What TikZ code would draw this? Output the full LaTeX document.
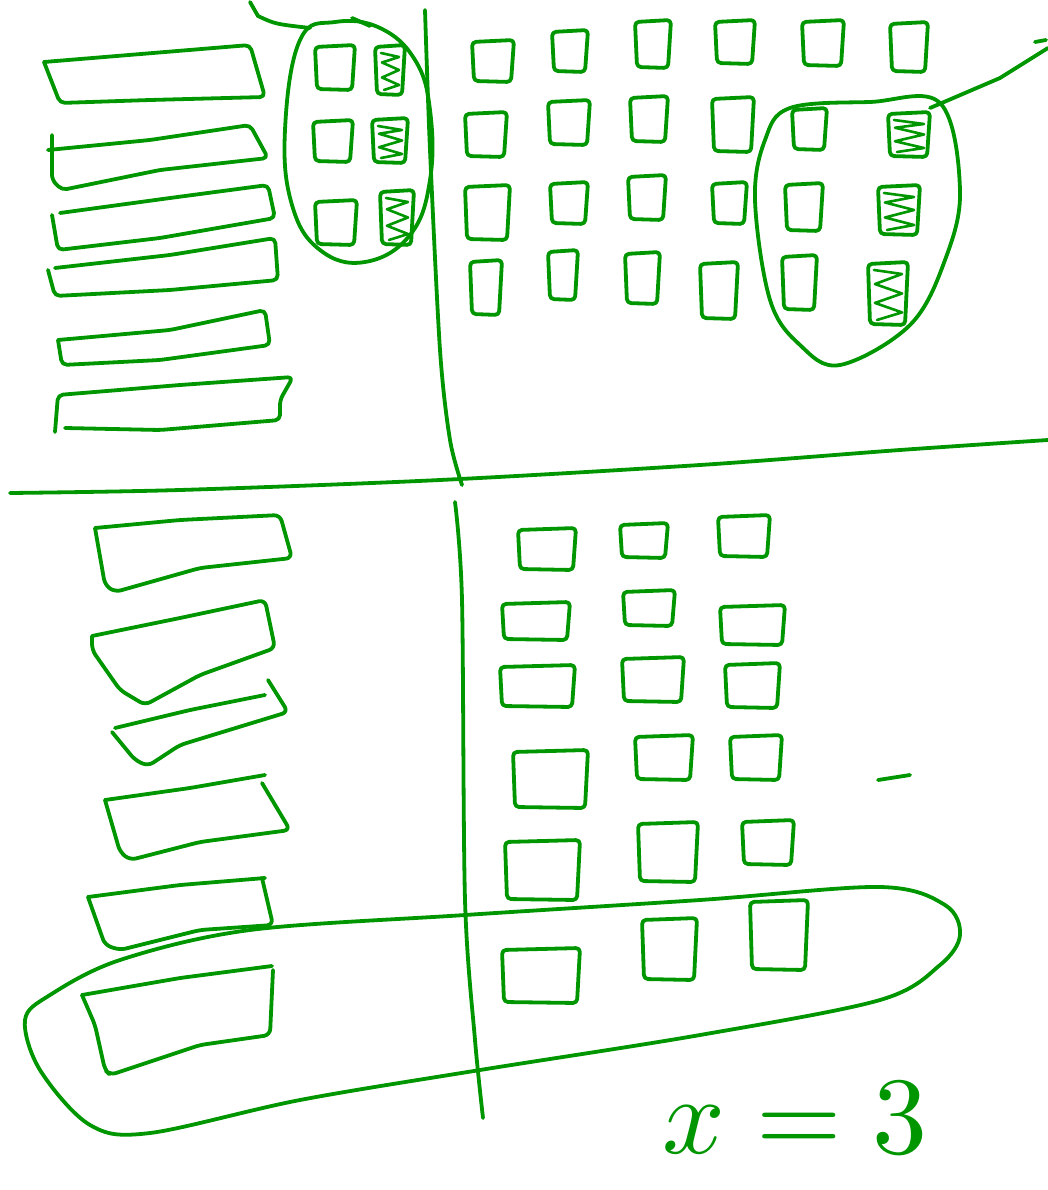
\documentclass[tikz,border=0pt]{standalone}
\definecolor{penc}{RGB}{0,150,0}
\newcommand\mysq[4]{\draw[pen,rounded corners=4pt] ({#1},{#2+2}) -- ({#1+#3},{#2}) -- ({#1+#3-3},{#2+#4}) -- ({#1+2},{#2+#4-1}) -- cycle;}
\newcommand\myhsq[4]{\mysq{#1}{#2}{#3}{#4}\draw[pen,line width=2.6pt] ({#1+6},{#2+8}) -- ({#1+#3-6},{#2+12}) -- ({#1+7},{#2+0.35*#4}) -- ({#1+#3-6},{#2+0.5*#4}) -- ({#1+7},{#2+0.65*#4}) -- ({#1+#3-6},{#2+0.8*#4}) -- ({#1+9},{#2+#4-5});}
\begin{document}
\begin{tikzpicture}[x=1pt,y=-1pt,
  pen/.style={draw=penc, line width=3.8pt, line cap=round, line join=round}]
\useasboundingbox (0,0) rectangle (1048,1190);
\fill[white] (0,0) rectangle (1048,1190);

% ---------- top-left bars ----------
\draw[pen,rounded corners=5pt] (44,62) -- (250,45) -- (265,97) -- (150,100) -- (60,103) -- (44,62);
\draw[pen,rounded corners=5pt] (48,150) -- (150,140) -- (250,125) -- (268,158) -- (160,170) -- (62,190) -- (52,180) -- (52,135);
\draw[pen,rounded corners=5pt] (60,213) -- (170,198) -- (268,185) -- (275,218) -- (160,238) -- (58,250) -- (52,215);
\draw[pen,rounded corners=5pt] (55,268) -- (170,255) -- (275,238) -- (278,280) -- (170,290) -- (55,296) -- (48,270);
\draw[pen,rounded corners=5pt] (58,340) -- (170,330) -- (265,310) -- (270,345) -- (160,360) -- (62,365) -- (58,340);
\draw[pen,rounded corners=5pt] (55,432) -- (58,395) -- (180,385) -- (293,377) -- (280,400) -- (280,420) -- (160,430) -- (65,428);

% ---------- top-left circle ----------
\draw[pen] plot[smooth cycle, tension=0.7] coordinates {(300,40) (335,22) (380,28) (415,60) (430,110) (430,180) (410,235) (365,262) (320,250) (292,205) (285,130)};
\draw[pen] (250,2) -- (258,16) .. controls (275,24) .. (310,28);
\draw[pen] (352,18) -- (370,26);
\mysq{315}{45}{40}{45}
\mysq{313}{120}{40}{42}
\mysq{315}{200}{42}{45}
\myhsq{375}{45}{30}{50}
\myhsq{372}{118}{36}{45}
\myhsq{380}{190}{34}{55}

% ---------- top vertical divider ----------
\draw[pen] plot[smooth, tension=0.5] coordinates {(425,10) (430,150) (440,350) (450,440) (462,485)};

% ---------- top-right grid ----------
\mysq{472}{40}{42}{42}
\mysq{552}{30}{36}{42}
\mysq{635}{20}{36}{48}
\mysq{715}{20}{40}{44}
\mysq{802}{20}{42}{46}
\mysq{890}{22}{38}{50}
\mysq{465}{112}{42}{45}
\mysq{548}{100}{42}{45}
\mysq{630}{96}{38}{46}
\mysq{712}{97}{42}{55}
\mysq{792}{108}{35}{42}
\myhsq{888}{112}{42}{45}
\mysq{465}{185}{45}{55}
\mysq{550}{182}{38}{42}
\mysq{628}{175}{38}{45}
\mysq{712}{182}{35}{42}
\mysq{785}{183}{38}{48}
\myhsq{878}{185}{42}{50}
\mysq{470}{260}{32}{55}
\mysq{548}{250}{30}{50}
\mysq{625}{252}{35}{52}
\mysq{700}{262}{38}{57}
\mysq{782}{255}{35}{55}
\myhsq{868}{262}{40}{63}

% ---------- right ellipse ----------
\draw[pen] plot[smooth cycle, tension=0.6] coordinates {(790,108) (870,102) (940,103) (960,190) (945,260) (910,325) (840,365) (800,345) (770,300) (755,200) (765,140)};
\draw[pen] (930,108) -- (1000,78) -- (1048,48);
\draw[pen] (1035,42) -- (1046,40);

% ---------- horizontal divider ----------
\draw[pen] plot[smooth, tension=0.5] coordinates {(10,493) (180,490) (440,480) (700,465) (900,450) (1048,440)};

% ---------- bottom-left bars ----------
\draw[pen,rounded corners=6pt] (95,528) -- (180,520) -- (280,515) -- (292,558) -- (200,568) -- (115,592) -- (105,585) -- (95,528);
\draw[pen,rounded corners=6pt] (92,636) -- (180,618) -- (265,600) -- (275,648) -- (200,675) -- (145,705) -- (120,690) -- (92,650) -- (92,636);
\draw[pen,rounded corners=6pt] (115,728) -- (190,710) -- (265,695);
\draw[pen,rounded corners=6pt] (268,680) -- (288,712) -- (180,745) -- (148,766) -- (135,760) -- (112,732);
\draw[pen,rounded corners=6pt] (105,800) -- (190,788) -- (265,775);
\draw[pen,rounded corners=6pt] (262,783) -- (290,830) -- (200,842) -- (130,860) -- (120,852) -- (105,800);
\draw[pen,rounded corners=6pt] (88,897) -- (180,885) -- (265,878);
\draw[pen,rounded corners=6pt] (262,878) -- (273,925) -- (200,930) -- (120,950) -- (105,945) -- (88,897);
\draw[pen,rounded corners=6pt] (82,995) -- (180,978) -- (272,966);
\draw[pen,rounded corners=6pt] (273,970) -- (270,1035) -- (200,1045) -- (110,1075) -- (105,1070) -- (95,1025) -- (82,995);

% ---------- bottom vertical divider ----------
\draw[pen] plot[smooth, tension=0.5] coordinates {(455,502) (462,600) (465,900) (475,1040) (483,1118)};

% ---------- bottom-right grid ----------
\mysq{518}{528}{58}{42}
\mysq{620}{523}{48}{35}
\mysq{718}{515}{52}{42}
\mysq{502}{602}{68}{38}
\mysq{623}{590}{52}{36}
\mysq{720}{605}{65}{40}
\mysq{500}{665}{75}{42}
\mysq{622}{657}{62}{45}
\mysq{725}{663}{55}{45}
\mysq{513}{750}{75}{58}
\mysq{635}{735}{58}{45}
\mysq{730}{735}{52}{45}
\mysq{505}{840}{75}{60}
\mysq{638}{822}{60}{60}
\mysq{742}{820}{52}{45}
\mysq{502}{948}{78}{55}
\mysq{642}{918}{55}{62}
\mysq{750}{900}{58}{70}

\draw[pen] (878,780) -- (910,775);

% ---------- elongated loop ----------
\draw[pen] plot[smooth cycle, tension=0.55] coordinates {(465,915) (700,900) (880,887) (945,905) (960,935) (940,965) (880,1000) (700,1035) (480,1070) (300,1100) (150,1133) (90,1125) (40,1070) (25,1020) (50,995) (120,960) (250,930)};

% ---------- label ----------
\node[text=penc, inner sep=0pt] (lbl) at (795,1118) {\scalebox{11}{$x=3$}};
\end{tikzpicture}
\end{document}
